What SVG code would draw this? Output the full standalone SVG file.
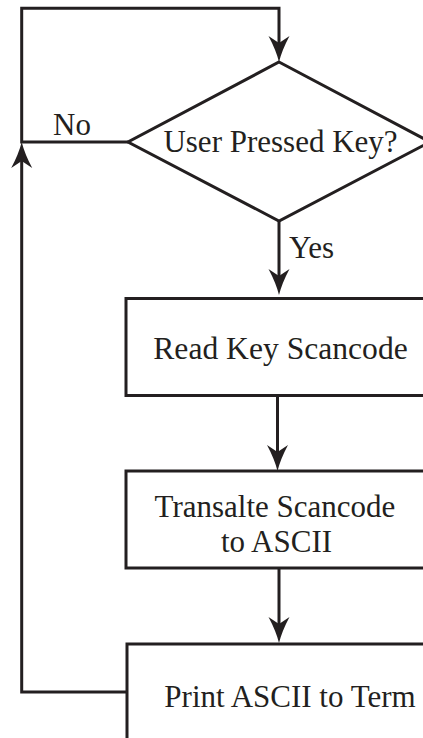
<svg xmlns="http://www.w3.org/2000/svg" width="423" height="738" viewBox="0 0 423 738">
<style>
.ln{fill:none;stroke:#231f20;stroke-width:3;stroke-linejoin:miter}
.nd{fill:#ffffff;stroke:#231f20;stroke-width:3}
.tx{font-family:"Liberation Serif","Times New Roman",serif;font-size:31px;fill:#231f20}
</style>
<defs>
<marker id="ah" markerUnits="userSpaceOnUse" orient="auto" refX="0" refY="0" markerWidth="60" markerHeight="60" overflow="visible">
<path d="M19,0 Q7,-3 -7,-10.5 L0,0 L-7,10.5 Q7,3 19,0 Z" fill="#231f20"/>
</marker>
</defs>
<rect width="423" height="738" fill="#ffffff"/>
<g id="connectors">
<path class="ln" d="M128,142 H21.7 V8.3 H279 V43" marker-end="url(#ah)"/>
<path class="ln" d="M127,692 H21.7 V161" marker-end="url(#ah)"/>
<path class="ln" d="M279,221 V276" marker-end="url(#ah)"/>
<path class="ln" d="M277.5,396 V452" marker-end="url(#ah)"/>
<path class="ln" d="M279,568 V624" marker-end="url(#ah)"/>
<text class="tx" x="53" y="135">No</text>
<text class="tx" x="289" y="258">Yes</text>
</g>
<g id="decision">
<polygon class="nd" points="279,62 430,142 279,221 128,142"/>
<text class="tx" x="280.5" y="151.5" text-anchor="middle">User Pressed Key?</text>
</g>
<g id="read">
<rect class="nd" x="126" y="298.5" width="330" height="97"/>
<text class="tx" x="280.5" y="358.5" text-anchor="middle" style="font-size:31.6px">Read Key Scancode</text>
</g>
<g id="translate">
<rect class="nd" x="126" y="471" width="330" height="97"/>
<text class="tx" text-anchor="middle"><tspan x="275" y="517">Transalte Scancode</tspan><tspan x="276.5" y="552">to ASCII</tspan></text>
</g>
<g id="print">
<rect class="nd" x="127" y="644" width="330" height="120"/>
<text class="tx" x="290" y="706.5" text-anchor="middle">Print ASCII to Term</text>
</g>
</svg>
